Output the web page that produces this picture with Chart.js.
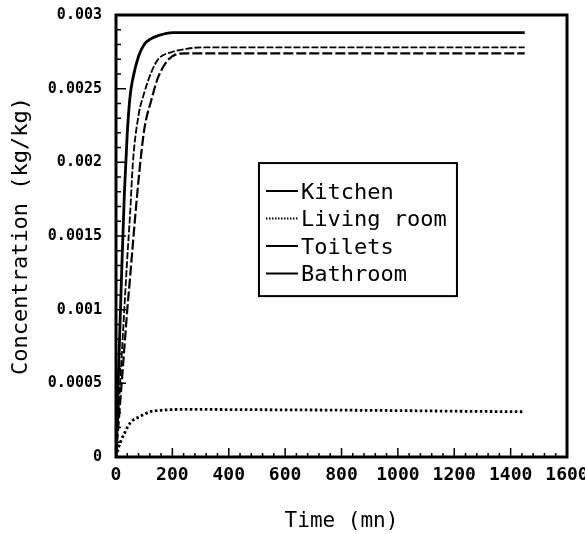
<!DOCTYPE html>
<html>
<head>
<meta charset="utf-8">
<script src="https://cdn.jsdelivr.net/npm/chart.js@4.4.1/dist/chart.umd.min.js"></script>
<style>
  html, body { margin: 0; padding: 0; background: #fff; }
</style>
</head>
<body>
<canvas id="concChart" width="585" height="534"></canvas>
<script>
// time in minutes, concentrations in kg/kg
var times      = [0, 10, 20, 30, 40, 50, 60, 80, 100, 125, 150, 200, 250, 300, 400, 600, 800, 1000, 1200, 1450];
var kitchen    = [0, 0.00064, 0.00125, 0.0018, 0.0022, 0.00245, 0.00257, 0.00272, 0.0028, 0.00284, 0.00286, 0.00288, 0.00288, 0.00288, 0.00288, 0.00288, 0.00288, 0.00288, 0.00288, 0.00288];
var livingRoom = [0, 0.00007, 0.00012, 0.00016, 0.0002, 0.00023, 0.00025, 0.00027, 0.00029, 0.00031, 0.000315, 0.000322, 0.000323, 0.000323, 0.000322, 0.00032, 0.000318, 0.000315, 0.000311, 0.000307];
var toilets    = [0, 0.00034, 0.00068, 0.00102, 0.00135, 0.00165, 0.002, 0.00232, 0.00247, 0.00261, 0.0027, 0.00275, 0.00277, 0.00278, 0.00278, 0.00278, 0.00278, 0.00278, 0.00278, 0.00278];
var bathroom   = [0, 0.00025, 0.0005, 0.00075, 0.001, 0.00122, 0.00145, 0.00188, 0.00222, 0.00242, 0.00258, 0.00272, 0.00274, 0.00274, 0.00274, 0.00274, 0.00274, 0.00274, 0.00274, 0.00274];
var seriesNames = ['Kitchen', 'Living room', 'Toilets', 'Bathroom'];

var xMin = 0, xMax = 1600, xStep = 200, xMinorStep = 40;
var yMin = 0, yMax = 0.003, yStep = 0.0005, yMinorStep = 0.0001;

function pts(arr) {
  return times.map(function (t, i) { return { x: t, y: arr[i] }; });
}

var mono = "'DejaVu Sans Mono', 'Liberation Mono', monospace";

// heavy frame + inward tick marks, like the old plotter output
var framePlugin = {
  id: 'frame',
  afterDatasetsDraw: function (chart) {
    var ctx = chart.ctx, a = chart.chartArea;
    var xs = chart.scales.x, ys = chart.scales.y;
    ctx.save();
    ctx.strokeStyle = '#000';
    ctx.lineWidth = 1.5;
    ctx.beginPath();
    for (var v = xMin; v <= xMax + 1e-9; v += xMinorStep) {
      var px = xs.getPixelForValue(v);
      var len = (Math.round(v) % xStep === 0) ? 9 : 4;
      ctx.moveTo(px, a.bottom);
      ctx.lineTo(px, a.bottom - len);
    }
    for (var k = 0; k * yMinorStep <= yMax + 1e-12; k++) {
      var py = ys.getPixelForValue(k * yMinorStep);
      var l2 = (k % 5 === 0) ? 10 : 5;
      ctx.moveTo(a.left, py);
      ctx.lineTo(a.left + l2, py);
    }
    ctx.stroke();
    ctx.lineWidth = 3;
    ctx.strokeRect(a.left, a.top, a.right - a.left, a.bottom - a.top);
    ctx.restore();
  }
};

// boxed legend sitting inside the plot
var boxLegend = {
  id: 'boxLegend',
  afterDraw: function (chart) {
    var ctx = chart.ctx, a = chart.chartArea;
    var w = a.right - a.left, h = a.bottom - a.top;
    var bx = a.left + w * 0.317, by = a.top + h * 0.335;
    var bw = w * 0.439, bh = h * 0.301;
    ctx.save();
    ctx.fillStyle = '#fff';
    ctx.fillRect(bx, by, bw, bh);
    ctx.strokeStyle = '#000';
    ctx.lineWidth = 2;
    ctx.strokeRect(bx, by, bw, bh);
    ctx.font = '22px ' + mono;
    ctx.fillStyle = '#000';
    ctx.textBaseline = 'middle';
    chart.data.datasets.forEach(function (ds, i) {
      var cy = by + 30 + i * 27.5;
      ctx.beginPath();
      ctx.setLineDash(ds.legendDash || []);
      ctx.lineWidth = 2;
      ctx.moveTo(bx + 7, cy - 2);
      ctx.lineTo(bx + 39, cy - 2);
      ctx.stroke();
      ctx.setLineDash([]);
      ctx.fillText(ds.label, bx + 42, cy);
    });
    ctx.restore();
  }
};

var ctx = document.getElementById('concChart');
var myChart = new Chart(ctx, {
  type: 'line',
  data: {
    datasets: [
      { label: seriesNames[0], data: pts(kitchen),    borderColor: '#000', borderWidth: 2.8 },
      { label: seriesNames[1], data: pts(livingRoom), borderColor: '#000', borderWidth: 2.8, borderDash: [2.5, 2.5], legendDash: [1.5, 1.5] },
      { label: seriesNames[2], data: pts(toilets),    borderColor: '#000', borderWidth: 1.8, borderDash: [7, 2] },
      { label: seriesNames[3], data: pts(bathroom),   borderColor: '#000', borderWidth: 2.2, borderDash: [10, 3] }
    ]
  },
  options: {
    responsive: false,
    animation: false,
    layout: { padding: 0 },
    elements: {
      point: { radius: 0 },
      line: { tension: 0.4, cubicInterpolationMode: 'monotone', fill: false }
    },
    plugins: {
      legend: { display: false },
      tooltip: { enabled: false }
    },
    scales: {
      x: {
        type: 'linear',
        min: xMin, max: xMax,
        grid: { display: false, drawTicks: false },
        border: { display: false },
        ticks: {
          stepSize: xStep,
          color: '#000',
          padding: 8,
          maxRotation: 0,
          font: { family: mono, size: 18, weight: 'bold' },
          callback: function (v) { return String(v); }
        },
        title: {
          display: true,
          text: 'Time (mn)',
          color: '#000',
          font: { family: mono, size: 21 },
          padding: { top: 0, bottom: 0 }
        },
        afterFit: function (scale) {
          scale.height = 77;
          scale.paddingLeft = 0;
          scale.paddingRight = 18;
        }
      },
      y: {
        min: yMin, max: yMax,
        grid: { display: false, drawTicks: false },
        border: { display: false },
        ticks: {
          stepSize: yStep,
          color: '#000',
          padding: 14,
          font: { family: mono, size: 15, weight: 'bold' },
          callback: function (v) { return String(Number(v.toFixed(4))); }
        },
        title: {
          display: true,
          text: 'Concentration (kg/kg)',
          color: '#000',
          font: { family: mono, size: 22 },
          padding: { top: 8, bottom: 0 }
        },
        afterFit: function (scale) {
          scale.width = 116;
          scale.paddingTop = 15;
          scale.paddingBottom = 0;
        }
      }
    }
  },
  plugins: [framePlugin, boxLegend]
});
</script>
</body>
</html>
